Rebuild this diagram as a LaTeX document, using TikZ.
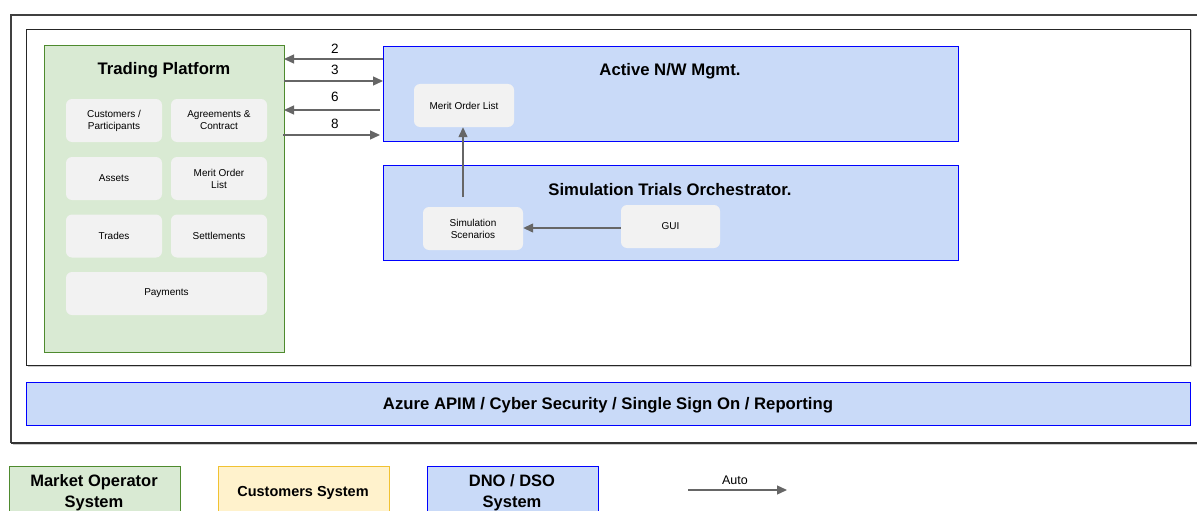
\documentclass[tikz,border=0pt]{standalone}
\usepackage{fontspec}
\setmainfont{Liberation Sans}
\usetikzlibrary{arrows.meta}
\definecolor{mogreen}{HTML}{D9EAD3}
\definecolor{mogreenline}{HTML}{4E8A2E}
\definecolor{dsoblue}{HTML}{C9DAF8}
\definecolor{dsoline}{HTML}{0000FF}
\definecolor{custyellow}{HTML}{FFF2CC}
\definecolor{custline}{HTML}{F1C232}
\definecolor{boxgray}{HTML}{F2F2F2}
\definecolor{arrowgray}{HTML}{666666}
\tikzset{
  framebox/.style={draw=black!85, line width=1.2pt, fill=none},
  greenbox/.style={draw=mogreenline, fill=mogreen, line width=1pt, inner sep=0pt},
  bluebox/.style={draw=dsoline, fill=dsoblue, line width=1pt, inner sep=0pt},
  yellowbox/.style={draw=custline, fill=custyellow, line width=1pt, inner sep=0pt},
  graybox/.style={fill=boxgray, rounded corners=6pt, inner sep=0pt, align=center,
    font=\fontsize{10}{12}\selectfont},
  titletext/.style={font=\fontsize{16.7}{19}\selectfont\bfseries, align=center, inner sep=0pt},
  numtext/.style={font=\fontsize{13.5}{16}\selectfont, inner sep=0pt},
  link/.style={draw=arrowgray, line width=1.3pt, -{Triangle[length=10pt,width=9pt]}},
}
\begin{document}
\begin{tikzpicture}[x=1pt,y=-1pt]
\useasboundingbox (0,0) rectangle (1197,511);
% frames
\draw[black!20, line width=1.5pt] (12.5,444.5) -- (1200,444.5);
\draw[black!75, line width=1.3pt] (11,443) -- (11,15) -- (1200,15);
\draw[black!80, line width=1.3pt] (11,443) -- (1200,443);
\draw[black!20, line width=1.5pt] (27.5,366.5) -- (1191.5,366.5) -- (1191.5,30.5);
\node[framebox, minimum width=1164pt, minimum height=336pt, inner sep=0pt, anchor=north west] (inner) at (26,29) {};
% Trading platform
\node[greenbox, minimum width=240pt, minimum height=307pt, anchor=north west] (tp) at (44,45) {};
\node[titletext] (tptitle) at (164,70) {Trading Platform};
\node[graybox, minimum width=96pt, minimum height=43pt] (cust) at (114,120.5) {Customers /\\Participants};
\node[graybox, minimum width=96pt, minimum height=43pt] (agree) at (219,120.5) {Agreements \&\\Contract};
\node[graybox, minimum width=96pt, minimum height=43pt] (assets) at (114,178.5) {Assets};
\node[graybox, minimum width=96pt, minimum height=43pt] (mol1) at (219,178.5) {Merit Order\\List};
\node[graybox, minimum width=96pt, minimum height=43pt] (trades) at (114,236) {Trades};
\node[graybox, minimum width=96pt, minimum height=43pt] (settle) at (219,236) {Settlements};
\node[graybox, minimum width=201pt, minimum height=43pt] (pay) at (166.5,293.5) {Payments};
% Active N/W
\node[bluebox, minimum width=575pt, minimum height=95pt, anchor=north west] (anw) at (383,46) {};
\node[titletext] (anwtitle) at (670,71.5) {Active N/W Mgmt.};
\node[graybox, minimum width=100pt, minimum height=43pt] (mol2) at (464,105.5) {Merit Order List};
% Simulation
\node[bluebox, minimum width=575pt, minimum height=95pt, anchor=north west] (sto) at (383,165) {};
\node[titletext] (stotitle) at (670,189.5) {Simulation Trials Orchestrator.};
\node[graybox, minimum width=100pt, minimum height=43pt] (sim) at (473,228.5) {Simulation\\Scenarios};
\node[graybox, minimum width=99pt, minimum height=43pt] (gui) at (670.5,226.5) {GUI};
% Azure bar
\node[bluebox, minimum width=1164pt, minimum height=43pt, anchor=north west] (azure) at (26,382) {};
\node[titletext] (azuretext) at (608,405.5) {Azure APIM / Cyber Security / Single Sign On / Reporting};
% arrows between platform and active n/w
\coordinate (a2s) at (383,59); \coordinate (a2e) at (284,59);
\coordinate (a3s) at (284,81); \coordinate (a3e) at (383,81);
\coordinate (a6s) at (380,110); \coordinate (a6e) at (284,110);
\coordinate (a8s) at (283,135); \coordinate (a8e) at (380,135);
\draw[link] (a2s) -- (a2e);
\draw[link] (a3s) -- (a3e);
\draw[link] (a6s) -- (a6e);
\draw[link] (a8s) -- (a8e);
\node[numtext] (n2) at (335,48.5) {2};
\node[numtext] (n3) at (335,70) {3};
\node[numtext] (n6) at (335,97) {6};
\node[numtext] (n8) at (335,123.5) {8};
% internal arrows
\coordinate (guiw) at (gui.west |- 0,228);
\draw[link] (guiw) -- (guiw -| sim.east);
\coordinate (simtop) at (463,197);
\draw[link] (simtop) -- (simtop |- mol2.south);
% legend
\node[greenbox, minimum width=171pt, minimum height=60pt, anchor=north west] (lg1) at (9,466) {};
\node[titletext, font=\fontsize{16.5}{21}\selectfont\bfseries] (lg1t) at (94,492.5) {Market Operator\\System};
\node[yellowbox, minimum width=171pt, minimum height=60pt, anchor=north west] (lg2) at (218,466) {};
\node[titletext, font=\fontsize{14.5}{18}\selectfont\bfseries] (lg2t) at (303,492.5) {Customers System};
\node[bluebox, minimum width=171pt, minimum height=60pt, anchor=north west] (lg3) at (427,466) {};
\node[titletext, font=\fontsize{16.5}{21}\selectfont\bfseries] (lg3t) at (512,492.5) {DNO / DSO\\System};
\coordinate (autos) at (688,490); \coordinate (autoe) at (787,490);
\draw[link] (autos) -- (autoe);
\node[numtext, font=\fontsize{12.5}{15}\selectfont] (autot) at (735,480.5) {Auto};
\end{tikzpicture}
\end{document}
